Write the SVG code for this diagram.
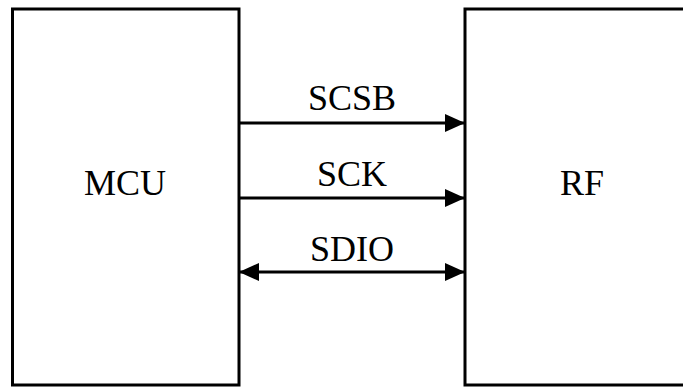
<svg xmlns="http://www.w3.org/2000/svg" width="683" height="387" viewBox="0 0 683 387">
<style>
.box{fill:#fff;stroke:#000;stroke-width:3}
.t{font-family:"Liberation Serif","Times New Roman","DejaVu Serif",serif;font-size:36px;fill:#000;text-anchor:middle}
.c{stroke:#000;stroke-width:3;fill:none}
</style>
<defs>
<marker id="ah" viewBox="0 0 20 18" refX="20" refY="9" markerWidth="20" markerHeight="18" markerUnits="userSpaceOnUse" orient="auto-start-reverse">
<path d="M0,0 L20,9 L0,18 Z" fill="#000"/>
</marker>
</defs>
<rect width="683" height="387" fill="#fff"/>
<g id="mcu">
<rect class="box" x="12.5" y="9" width="226.5" height="376"/>
<text class="t" x="125" y="195">MCU</text>
</g>
<g id="rf">
<rect class="box" x="465" y="9" width="240" height="376"/>
<text class="t" x="582" y="195">RF</text>
</g>
<g id="connectors">
<line class="c" x1="239" y1="123" x2="465" y2="123" marker-end="url(#ah)"/>
<text class="t" x="352" y="110">SCSB</text>
<line class="c" x1="239" y1="198" x2="465" y2="198" marker-end="url(#ah)"/>
<text class="t" x="352" y="186">SCK</text>
<line class="c" x1="239" y1="272" x2="465" y2="272" marker-start="url(#ah)" marker-end="url(#ah)"/>
<text class="t" x="352" y="261">SDIO</text>
</g>
</svg>
